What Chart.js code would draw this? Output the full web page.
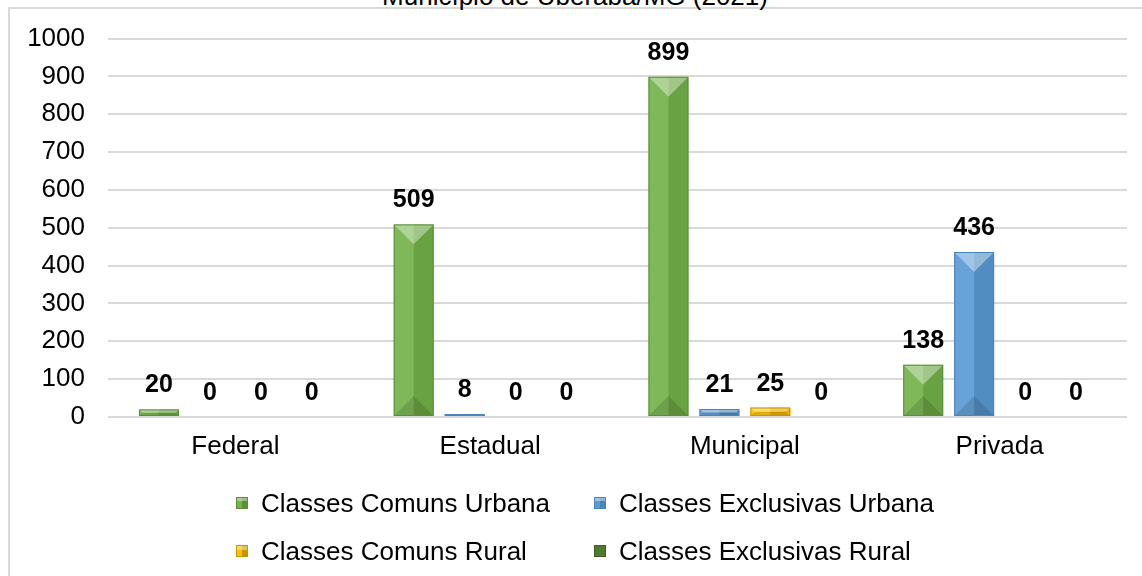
<!DOCTYPE html>
<html lang="pt-BR">
<head>
<meta charset="utf-8">
<title>Classes por dependência - Município de Uberaba/MG (2021)</title>
<script src="https://cdn.jsdelivr.net/npm/chart.js@4.4.1/dist/chart.umd.min.js"></script>
<style>
  html, body { margin: 0; padding: 0; background: #fff; overflow: hidden; }
  body { width: 1142px; height: 576px; position: relative; font-family: "Liberation Sans", Arial, sans-serif; }
  .frame { position: absolute; left: 8px; top: 7px; width: 1200px; height: 640px; border: 2px solid #d9d9d9; box-sizing: border-box; }
  .title { position: absolute; left: 0; width: 1150px; top: -17px; text-align: center; font-size: 26px; line-height: 26px; color: #000; }
  #chart { position: absolute; left: 0; top: 0; }
  .legend { position: absolute; left: 236px; top: 479px; display: grid; grid-template-columns: 358px auto; grid-auto-rows: 48px; }
  .legend-item { display: flex; align-items: center; font-size: 26px; color: #000; white-space: nowrap; }
  .legend-box { width: 12px; height: 12px; margin-right: 13px; box-sizing: border-box; border: 1px solid rgba(0,0,0,0.25); }
</style>
</head>
<body>
<div class="frame"></div>
<div class="title">Município de Uberaba/MG (2021)</div>
<canvas id="chart" width="1142" height="576"></canvas>
<div class="legend" id="legend"></div>
<script>
// categorias e séries
const categories = ['Federal', 'Estadual', 'Municipal', 'Privada'];
const seriesNames = ['Classes Comuns Urbana', 'Classes Exclusivas Urbana', 'Classes Comuns Rural', 'Classes Exclusivas Rural'];
const comunsUrbana = [20, 509, 899, 138];
const exclusivasUrbana = [0, 8, 21, 436];
const comunsRural = [0, 0, 25, 0];
const exclusivasRural = [0, 0, 0, 0];
const yTicks = [0, 100, 200, 300, 400, 500, 600, 700, 800, 900, 1000];

const seriesValues = [comunsUrbana, exclusivasUrbana, comunsRural, exclusivasRural];
const fillColors = ['#74b24a', '#5b9bd5', '#ffc000', '#4e7a2e'];
const edgeColors = ['#5a8f38', '#4a84b8', '#c89600', '#3b5e22'];
const bevelled = [true, true, true, false];

const FONT = '"Liberation Sans", Arial, sans-serif';

// efeito de bisel nas barras (como no Excel)
const bevel = {
  id: 'bevel',
  afterDatasetsDraw(chart) {
    const ctx = chart.ctx;
    ctx.save();
    chart.data.datasets.forEach((ds, i) => {
      chart.getDatasetMeta(i).data.forEach(bar => {
        const p = bar.getProps(['x', 'y', 'base', 'width'], true);
        const top = Math.min(p.y, p.base), bottom = Math.max(p.y, p.base);
        const h = bottom - top;
        if (h < 0.5) return;
        const left = p.x - p.width / 2, right = p.x + p.width / 2;
        const d = Math.min(p.width / 2, h / 2);
        // metade esquerda mais clara, direita mais escura
        ctx.fillStyle = 'rgba(255,255,255,0.08)';
        ctx.fillRect(left, top, p.width / 2, h);
        ctx.fillStyle = 'rgba(0,0,0,0.09)';
        ctx.fillRect(p.x, top, p.width / 2, h);
        // topo claro
        ctx.fillStyle = 'rgba(255,255,255,0.38)';
        ctx.beginPath();
        ctx.moveTo(left, top); ctx.lineTo(right, top);
        ctx.lineTo(right - d, top + d); ctx.lineTo(left + d, top + d);
        ctx.closePath(); ctx.fill();
        // base escura
        ctx.fillStyle = 'rgba(0,0,0,0.12)';
        ctx.beginPath();
        ctx.moveTo(left, bottom); ctx.lineTo(right, bottom);
        ctx.lineTo(right - d, bottom - d); ctx.lineTo(left + d, bottom - d);
        ctx.closePath(); ctx.fill();
        ctx.strokeStyle = edgeColors[i];
        ctx.lineWidth = 1;
        ctx.strokeRect(left + 0.5, top + 0.5, p.width - 1, h - 1);
      });
    });
    ctx.restore();
  }
};

// rótulos de valor acima das barras
const valueLabels = {
  id: 'valueLabels',
  afterDatasetsDraw(chart) {
    const ctx = chart.ctx;
    ctx.save();
    ctx.font = 'bold 25px ' + FONT;
    ctx.fillStyle = '#000';
    ctx.textAlign = 'center';
    ctx.textBaseline = 'alphabetic';
    chart.data.datasets.forEach((ds, i) => {
      chart.getDatasetMeta(i).data.forEach((bar, j) => {
        ctx.fillText(String(ds.data[j]), bar.x, bar.y - 17);
      });
    });
    ctx.restore();
  }
};

new Chart(document.getElementById('chart'), {
  type: 'bar',
  data: {
    labels: categories,
    datasets: seriesNames.map((name, i) => ({
      label: name,
      data: seriesValues[i],
      backgroundColor: fillColors[i],
      borderWidth: 0,
      categoryPercentage: 0.8,
      barPercentage: 0.784
    }))
  },
  options: {
    responsive: false,
    devicePixelRatio: 1,
    animation: false,
    layout: { padding: { left: 0, top: 36, right: 15, bottom: 109 } },
    plugins: {
      legend: { display: false },
      title: { display: false },
      tooltip: { enabled: false }
    },
    scales: {
      x: {
        grid: { display: false, drawTicks: false },
        border: { display: false },
        ticks: { color: '#000', font: { family: FONT, size: 26 }, padding: 14 },
        afterFit: scale => { scale.height = 50; }
      },
      y: {
        min: 0,
        max: 1000,
        afterBuildTicks: scale => { scale.ticks = yTicks.map(v => ({ value: v })); },
        grid: { color: '#d9d9d9', lineWidth: 2, drawTicks: false },
        border: { display: false },
        ticks: {
          color: '#000',
          font: { family: FONT, size: 26 },
          padding: 23,
          callback: value => String(value)
        },
        afterFit: scale => { scale.width = 108; }
      }
    }
  },
  plugins: [bevel, valueLabels]
});

// legenda em duas colunas
const legend = document.getElementById('legend');
seriesNames.forEach((name, i) => {
  const item = document.createElement('div');
  item.className = 'legend-item';
  const box = document.createElement('span');
  box.className = 'legend-box';
  box.style.background = bevelled[i]
    ? `linear-gradient(to bottom, rgba(255,255,255,0.4) 0 35%, transparent 35%), linear-gradient(to right, ${fillColors[i]} 50%, ${edgeColors[i]} 50%)`
    : fillColors[i];
  box.style.borderColor = edgeColors[i];
  item.appendChild(box);
  item.appendChild(document.createTextNode(name));
  legend.appendChild(item);
});
</script>
</body>
</html>
